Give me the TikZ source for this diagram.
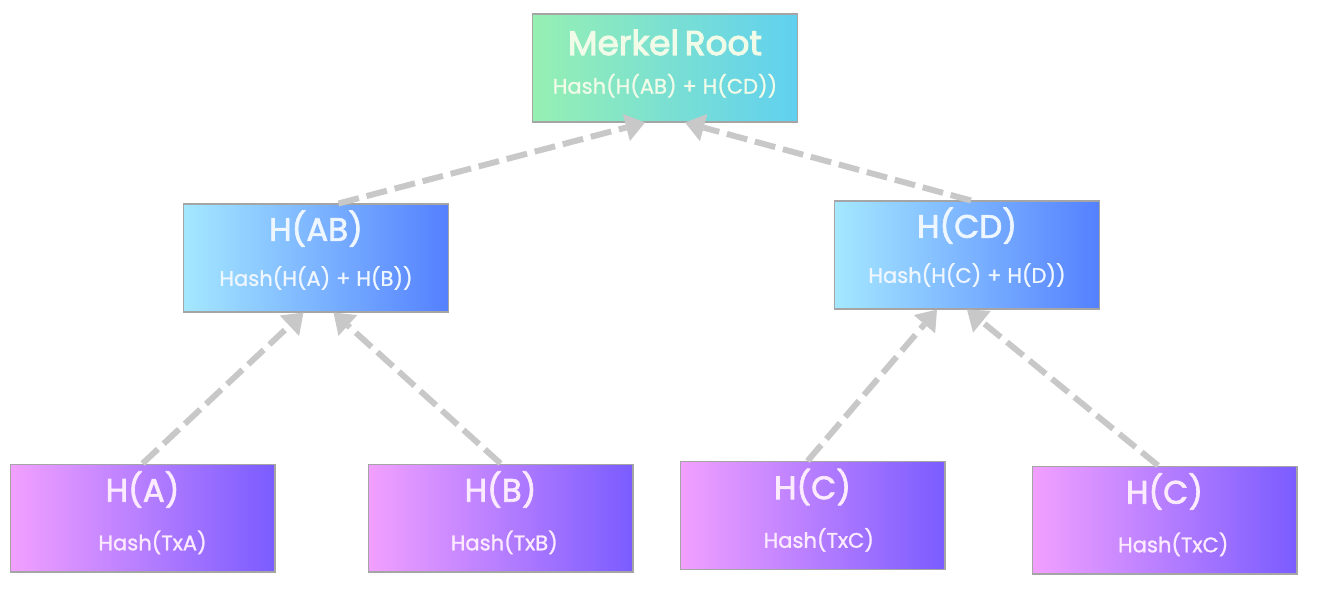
\documentclass[tikz,border=0pt]{standalone}
\usepackage{fontspec}
\setmainfont{Poppins}[RawFeature={embolden=1.2}]
\newfontfamily\headfont{Poppins}[RawFeature={embolden=2}]
\newfontfamily\titlefont{Poppins}[RawFeature={embolden=3}]
\usepackage{tikz}
\usetikzlibrary{positioning,arrows.meta}
\usepackage{xcolor}
\definecolor{RootLeft}{RGB}{150,240,178}
\definecolor{RootRight}{RGB}{96,208,240}
\definecolor{RootText}{RGB}{240,251,232}
\definecolor{MidLeft}{RGB}{164,232,255}
\definecolor{MidRight}{RGB}{84,128,255}
\definecolor{MidText}{RGB}{238,246,255}
\definecolor{LeafLeft}{RGB}{242,160,255}
\definecolor{LeafRight}{RGB}{122,92,255}
\definecolor{LeafText}{RGB}{252,234,255}
\definecolor{EdgeGray}{RGB}{165,165,165}
\definecolor{LinkGray}{RGB}{200,200,200}
\newcommand{\headtxt}[1]{{\headfont\fontsize{18.5}{21}\selectfont #1}}
\newcommand{\subtxt}[1]{{\fontsize{12}{14}\selectfont #1}}

\begin{document}
\begin{tikzpicture}[
    x=0.02cm, y=-0.02cm,
    hashbox/.style={rectangle, draw=EdgeGray, line width=0.6pt,
                    minimum width=5.3cm, minimum height=2.16cm,
                    text width=5cm, align=center, inner sep=0pt},
    rootbox/.style={hashbox, left color=RootLeft, right color=RootRight, text=RootText},
    midbox/.style={hashbox, left color=MidLeft, right color=MidRight, text=MidText},
    leafbox/.style={hashbox, left color=LeafLeft, right color=LeafRight, text=LeafText},
    link/.style={draw=LinkGray, line width=3.4pt, dash pattern=on 12pt off 4.5pt,
                 -{Triangle[width=16pt, length=11pt, fill=LinkGray, line width=0pt]}},
]
    \useasboundingbox (0,0) rectangle (1318,594);

    \node[rootbox] (root) at (665,68)
        {{\titlefont\fontsize{19.5}{22}\selectfont Merkel Root}\\[10pt]\subtxt{Hash(H(AB) + H(CD))}\par\vspace*{5pt}};
    \node[midbox, below left=1.62cm and 1.66cm of root] (hab)
        {\headtxt{H(AB)}\\[10pt]\subtxt{Hash(H(A) + H(B))}\par\vspace*{9pt}};
    \node[midbox, below right=1.56cm and 0.72cm of root] (hcd)
        {\headtxt{H(CD)}\\[10pt]\subtxt{Hash(H(C) + H(D))}\par\vspace*{9pt}};

    \node[leafbox, below=3.02cm of hab, xshift=-3.47cm] (ha)
        {\headtxt{H(A)}\\[12pt]\subtxt{\hspace*{0.4cm}Hash(TxA)}\par\vspace*{6pt}};
    \node[leafbox, right=1.84cm of ha] (hb)
        {\headtxt{H(B)}\\[12pt]\subtxt{\hspace*{0.15cm}Hash(TxB)}\par\vspace*{6pt}};
    \node[leafbox, right=0.92cm of hb, yshift=0.05cm] (hc)
        {\headtxt{H(C)}\\[12pt]\subtxt{\hspace*{0.25cm}Hash(TxC)}\par\vspace*{6pt}};
    \node[leafbox, right=1.72cm of hc, yshift=-0.09cm] (hcc)
        {\headtxt{H(C)}\\[12pt]\subtxt{\hspace*{0.35cm}Hash(TxC)}\par\vspace*{6pt}};

    \draw[link] ([xshift=0.45cm]hab.north) -- ([xshift=-0.4cm]root.south);
    \draw[link] ([xshift=0.08cm]hcd.north) -- ([xshift=0.4cm]root.south);
    \draw[link] (ha.north) -- ([xshift=-0.25cm]hab.south);
    \draw[link] (hb.north) -- ([xshift=0.35cm]hab.south);
    \draw[link] ([xshift=-0.1cm]hc.north) -- ([xshift=-0.6cm]hcd.south);
    \draw[link] ([xshift=-0.13cm]hcc.north) -- ([xshift=0cm]hcd.south);
\end{tikzpicture}
\end{document}
